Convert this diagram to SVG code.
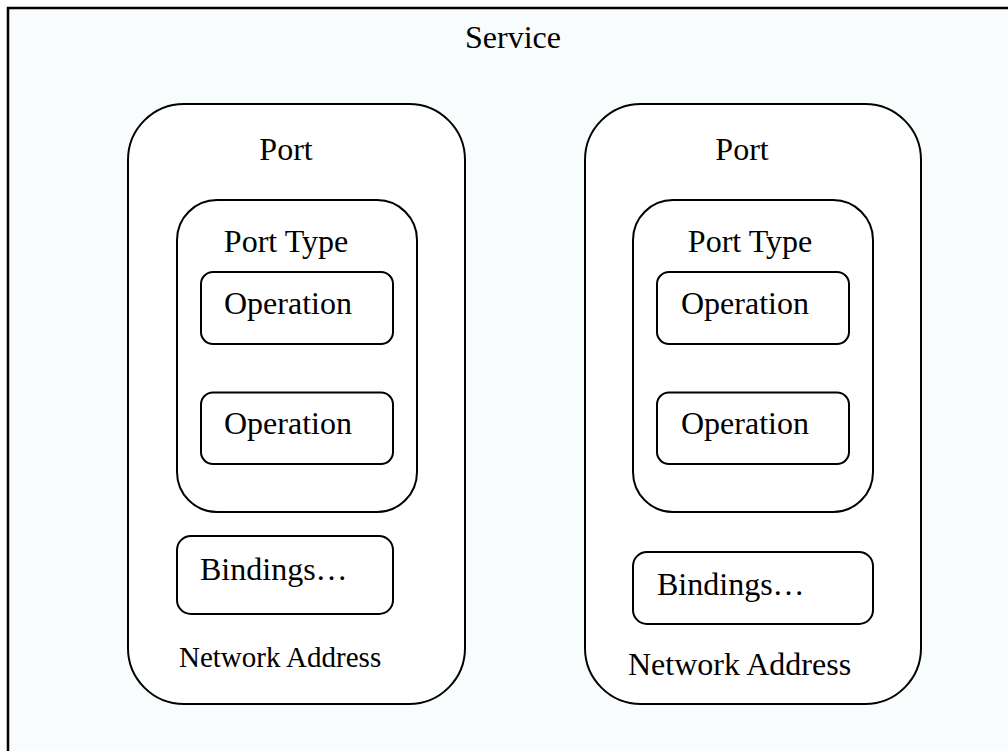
<svg xmlns="http://www.w3.org/2000/svg" width="1008" height="751" viewBox="0 0 1008 751">
<style>
text{font-family:"Liberation Serif","Times New Roman",serif;font-size:32px;fill:#000}
.box{fill:#fff;stroke:#000;stroke-width:2}
.svc{fill:#f8fcfc;stroke:#000;stroke-width:2.5}
</style>
<rect width="1008" height="751" fill="#fff"/>
<g id="service">
<rect class="svc" x="8" y="8" width="1010" height="760"/>
<text x="513" y="48" text-anchor="middle">Service</text>
</g>
<g id="port-left">
<rect class="box" x="128" y="104" width="337" height="600" rx="56" ry="56"/>
<text x="286" y="160" text-anchor="middle">Port</text>
</g>
<g id="porttype-left">
<rect class="box" x="177" y="200" width="240" height="312" rx="40" ry="40"/>
<text x="286" y="252" text-anchor="middle">Port Type</text>
</g>
<g id="op1-left">
<rect class="box" x="201" y="272" width="192" height="72" rx="12" ry="12"/>
<text x="224" y="314">Operation</text>
</g>
<g id="op2-left">
<rect class="box" x="201" y="392.5" width="192" height="71.5" rx="12" ry="12"/>
<text x="224" y="434">Operation</text>
</g>
<g id="bindings-left">
<rect class="box" x="177" y="536" width="216" height="78" rx="14" ry="14"/>
<text x="200" y="580">Bindings…</text>
</g>
<g id="netaddr-left">
<text x="179" y="667" style="font-size:29px">Network Address</text>
</g>
<g id="port-right">
<rect class="box" x="585" y="104" width="336" height="600" rx="56" ry="56"/>
<text x="742" y="160" text-anchor="middle">Port</text>
</g>
<g id="porttype-right">
<rect class="box" x="633" y="200" width="240" height="312" rx="40" ry="40"/>
<text x="750" y="252" text-anchor="middle">Port Type</text>
</g>
<g id="op1-right">
<rect class="box" x="657" y="272" width="192" height="72" rx="12" ry="12"/>
<text x="681" y="314">Operation</text>
</g>
<g id="op2-right">
<rect class="box" x="657" y="392.5" width="192" height="71.5" rx="12" ry="12"/>
<text x="681" y="434">Operation</text>
</g>
<g id="bindings-right">
<rect class="box" x="633" y="552" width="240" height="72" rx="14" ry="14"/>
<text x="657" y="595">Bindings…</text>
</g>
<g id="netaddr-right">
<text x="628" y="675">Network Address</text>
</g>
<g id="connectors"></g>
</svg>
